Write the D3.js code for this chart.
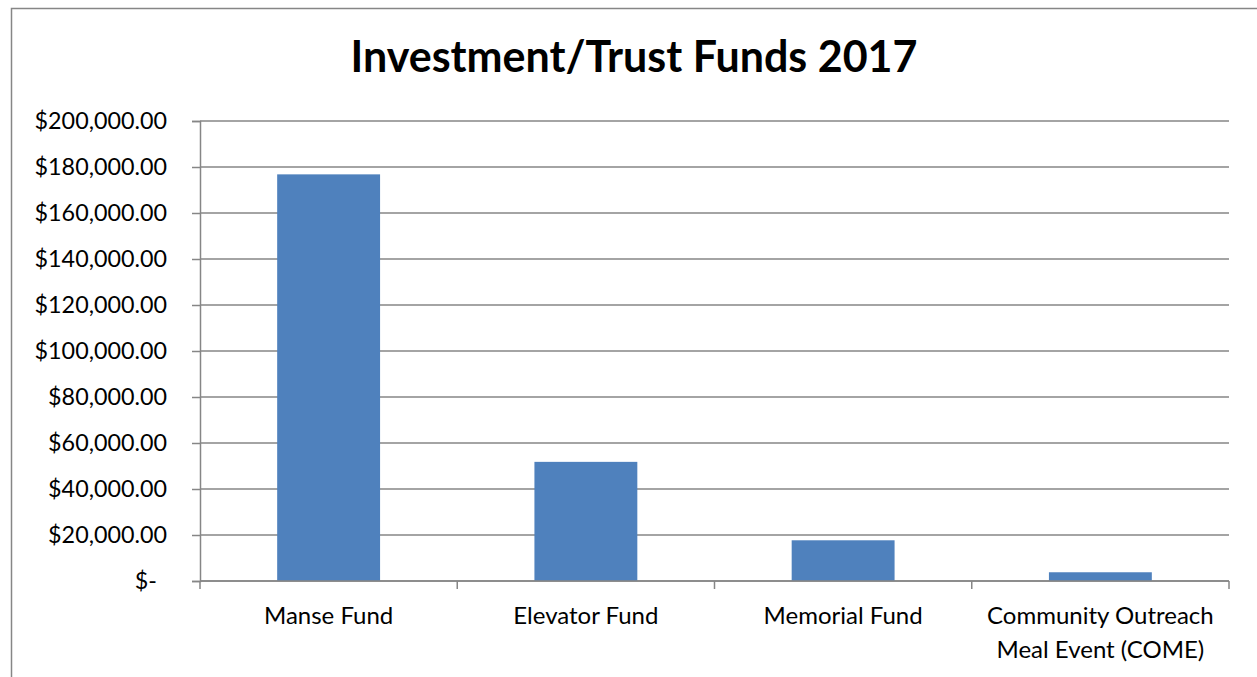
<!DOCTYPE html>
<html>
<head>
<meta charset="utf-8">
<script src="https://cdn.jsdelivr.net/npm/d3@7"></script>
<style>
  body { margin: 0; background: #fff; }
  svg { display: block; font-family: Lato, "Open Sans", sans-serif; }
</style>
</head>
<body>
<div id="chart"></div>
<script>
// data
var categories = ["Manse Fund", "Elevator Fund", "Memorial Fund", "Community Outreach Meal Event (COME)"];
var labelLines = [["Manse Fund"], ["Elevator Fund"], ["Memorial Fund"], ["Community Outreach", "Meal Event (COME)"]];
var values = [176800, 51800, 17700, 3800];
var yTicks = [0, 20000, 40000, 60000, 80000, 100000, 120000, 140000, 160000, 180000, 200000];
var chartTitle = "Investment/Trust Funds 2017";

function makeBarChart(div_id, pWidth, pHeight) {
  var margin = {top: 121, right: 28, bottom: 96, left: 200};
  var width = pWidth - margin.left - margin.right;
  var height = pHeight - margin.top - margin.bottom;
  var gray = "#868686";

  var root = d3.select("#" + div_id).append("svg")
    .attr("width", pWidth)
    .attr("height", pHeight);

  // chart border
  root.append("rect")
    .attr("x", 11.5).attr("y", 8.5)
    .attr("width", pWidth + 20).attr("height", pHeight + 20)
    .attr("fill", "#fff")
    .attr("stroke", gray)
    .attr("stroke-width", 1.5);

  // title
  root.append("text")
    .attr("x", 634)
    .attr("y", 72)
    .attr("text-anchor", "middle")
    .attr("font-weight", "bold")
    .attr("font-size", 43)
    .attr("fill", "#000")
    .text(chartTitle);

  var svg = root.append("g")
    .attr("transform", "translate(" + margin.left + "," + margin.top + ")");

  var x = d3.scaleBand().domain(categories).range([0, width]).paddingInner(0.6).paddingOuter(0.3);
  var y = d3.scaleLinear().domain([0, 200000]).range([height, 0]);

  // gridlines
  svg.append("g").attr("class", "grid")
    .selectAll("line").data(yTicks).enter().append("line")
      .attr("x1", 0).attr("x2", width)
      .attr("y1", function(d) { return y(d); })
      .attr("y2", function(d) { return y(d); })
      .attr("stroke", gray)
      .attr("stroke-width", 1.5);

  // y axis
  var fmt = d3.format(",.2f");
  var yAxis = d3.axisLeft(y).tickValues(yTicks).tickSize(8).tickPadding(25)
    .tickFormat(function(d) { return d === 0 ? "$-" : "$" + fmt(d); });
  var yg = svg.append("g").attr("class", "yAxis").call(yAxis);
  yg.select(".domain").attr("stroke", gray).attr("stroke-width", 1.5);
  yg.selectAll(".tick line").attr("stroke", gray).attr("stroke-width", 1.5);
  yg.selectAll(".tick text")
    .attr("font-size", 23.3)
    .attr("font-family", "Lato, sans-serif")
    .attr("fill", "#000")
    .attr("dx", function(d) { return d === 0 ? -10 : 0; });

  // bars
  svg.append("g").attr("class", "bars")
    .selectAll("rect").data(values).enter().append("rect")
      .attr("x", function(d, i) { return x(categories[i]); })
      .attr("y", function(d) { return y(d); })
      .attr("width", x.bandwidth())
      .attr("height", function(d) { return height - y(d); })
      .attr("fill", "#4F81BD");

  // x axis line and band boundary ticks
  var xg = svg.append("g").attr("class", "xAxis").attr("transform", "translate(0," + height + ")");
  xg.append("line")
    .attr("x1", 0).attr("x2", width).attr("y1", 0).attr("y2", 0)
    .attr("stroke", gray).attr("stroke-width", 1.5);
  var bounds = d3.range(categories.length + 1).map(function(i) { return i * x.step(); });
  xg.selectAll("line.tk").data(bounds).enter().append("line")
    .attr("class", "tk")
    .attr("x1", function(d) { return d; }).attr("x2", function(d) { return d; })
    .attr("y1", 0).attr("y2", 8)
    .attr("stroke", gray).attr("stroke-width", 1.5);

  var labels = xg.selectAll("text.lbl").data(labelLines).enter().append("text")
    .attr("class", "lbl")
    .attr("text-anchor", "middle")
    .attr("font-size", 24)
    .attr("fill", "#000")
    .attr("transform", function(d, i) { return "translate(" + (x(categories[i]) + x.bandwidth() / 2) + ",43)"; });
  labels.selectAll("tspan").data(function(d) { return d; }).enter().append("tspan")
    .attr("x", 0)
    .attr("y", function(d, j) { return j * 34; })
    .text(function(d) { return d; });
}

makeBarChart("chart", 1257, 677);
</script>
</body>
</html>
